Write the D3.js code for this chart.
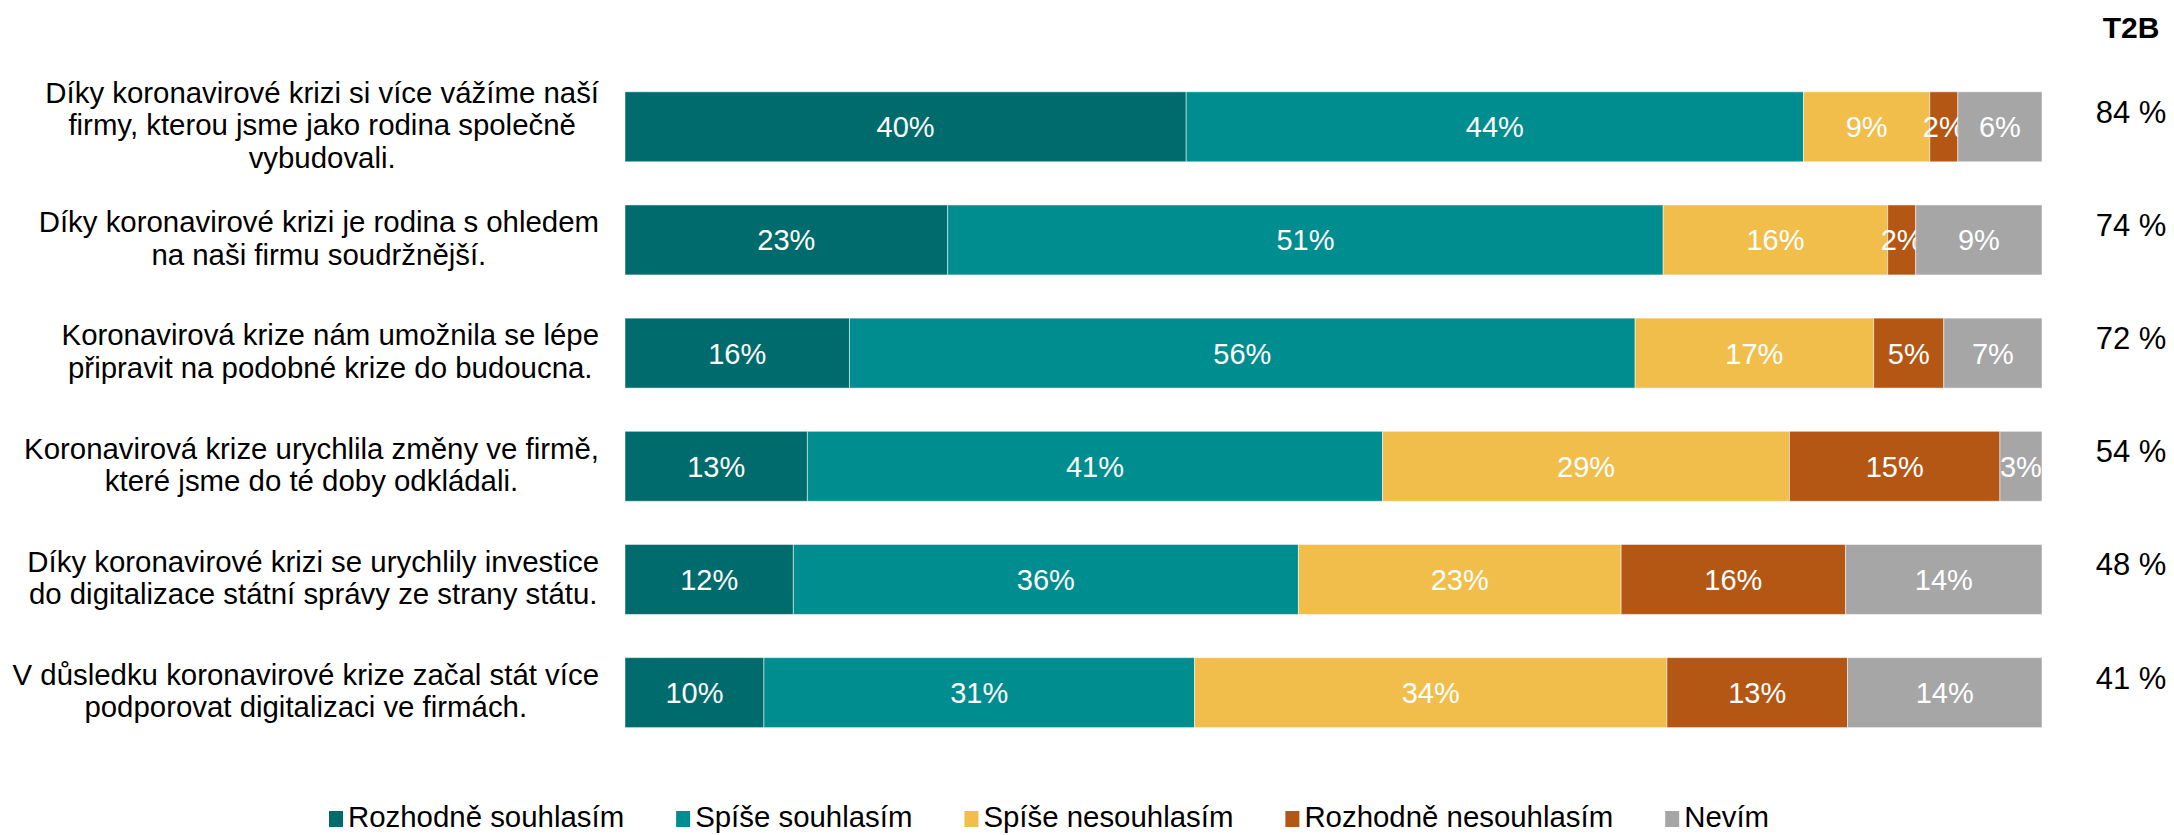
<!DOCTYPE html>
<html>
<head>
<meta charset="utf-8">
<script src="https://cdn.jsdelivr.net/npm/d3@7"></script>
<style>
  body { margin: 0; background: #fff; }
  text { font-family: 'Liberation Sans', Arial, sans-serif; }
</style>
</head>
<body>
<script>
// otázky (každá položka = řádky popisku)
const categories = [
  ['Díky koronavirové krizi si více vážíme naší', 'firmy, kterou jsme jako rodina společně', 'vybudovali.'],
  ['Díky koronavirové krizi je rodina s ohledem', 'na naši firmu soudržnější.'],
  ['Koronavirová krize nám umožnila se lépe', 'připravit na podobné krize do budoucna.'],
  ['Koronavirová krize urychlila změny ve firmě,', 'které jsme do té doby odkládali.'],
  ['Díky koronavirové krizi se urychlily investice', 'do digitalizace státní správy ze strany státu.'],
  ['V důsledku koronavirové krize začal stát více', 'podporovat digitalizaci ve firmách.']
];

const series = ['Rozhodně souhlasím', 'Spíše souhlasím', 'Spíše nesouhlasím', 'Rozhodně nesouhlasím', 'Nevím'];
const colors = ['#006B6C', '#008D90', '#F1BE4B', '#B55714', '#A6A6A6'];

const rozhodneSouhlasim   = [40, 23, 16, 13, 12, 10];
const spiseSouhlasim      = [44, 51, 56, 41, 36, 31];
const spiseNesouhlasim    = [9, 16, 17, 29, 23, 34];
const rozhodneNesouhlasim = [2, 2, 5, 15, 16, 13];
const nevim               = [6, 9, 7, 3, 14, 14];

const t2b = [84, 74, 72, 54, 48, 41];

const values = [rozhodneSouhlasim, spiseSouhlasim, spiseNesouhlasim, rozhodneNesouhlasim, nevim];

const rows = categories.map((c, i) => {
  const r = { idx: i };
  series.forEach((s, j) => { r[s] = values[j][i]; });
  return r;
});

const svg = d3.select('body').append('svg').attr('width', 2174).attr('height', 835);

const x = d3.scaleLinear().domain([0, 1]).range([625, 2042]);
const y = d3.scaleBand().domain(d3.range(categories.length)).range([70.2, 749.2]).paddingInner(0.3816).paddingOuter(0.1908);
const color = d3.scaleOrdinal().domain(series).range(colors);

// stack normalizovaný na 100 %
const stacked = d3.stack().keys(series).offset(d3.stackOffsetExpand)(rows);

const layer = svg.append('g').selectAll('g').data(stacked).join('g')
  .attr('fill', d => color(d.key));

layer.selectAll('rect').data(d => d.map(p => Object.assign(p, { key: d.key }))).join('rect')
  .attr('x', d => x(d[0]))
  .attr('y', d => y(d.data.idx))
  .attr('width', d => x(d[1]) - x(d[0]))
  .attr('height', y.bandwidth())
  .style('stroke', '#fff').style('stroke-width', 1).style('stroke-opacity', 0.5);

layer.selectAll('text').data(d => d).join('text')
  .attr('x', d => (x(d[0]) + x(d[1])) / 2)
  .attr('y', d => y(d.data.idx) + y.bandwidth() / 2)
  .attr('dy', '0.36em')
  .attr('text-anchor', 'middle')
  .style('fill', '#fff').style('font-size', '29px')
  .text(d => d.data[d.key] + '%');

// popisky otázek: blok zarovnaný vpravo, řádky na střed
const labelRight = 599, lineH = 32.5;
categories.forEach((lines, i) => {
  const g = svg.append('g');
  const cy = y(i) + y.bandwidth() / 2 - 2;
  const t = g.selectAll('text').data(lines).join('text')
    .attr('y', (d, k) => cy + (k - (lines.length - 1) / 2) * lineH)
    .attr('dy', '0.36em')
    .attr('text-anchor', 'middle')
    .style('font-size', '29.4px').style('fill', '#000')
    .text(d => d);
  const maxW = d3.max(t.nodes(), n => n.getComputedTextLength());
  t.attr('x', labelRight - maxW / 2);
});

// T2B
svg.append('text').attr('x', 2131).attr('y', 38).attr('text-anchor', 'middle')
  .style('font-size', '30px').style('font-weight', 'bold').style('fill', '#000').text('T2B');

svg.append('g').selectAll('text').data(t2b).join('text')
  .attr('x', 2131)
  .attr('y', (d, i) => y(i) + y.bandwidth() / 2 - 4)
  .attr('text-anchor', 'middle')
  .style('font-size', '31px').style('fill', '#000')
  .text(d => d + ' %');

// legenda
const legend = svg.append('g').attr('transform', 'translate(329,811)');
let lx = 0;
series.forEach((s, i) => {
  legend.append('rect').attr('x', lx).attr('y', 0).attr('width', 14).attr('height', 16).attr('fill', colors[i]);
  const t = legend.append('text').attr('x', lx + 19).attr('y', 16).style('font-size', '29.4px').style('fill', '#000').text(s);
  lx += 19 + t.node().getComputedTextLength() + 52;
});
</script>
</body>
</html>
